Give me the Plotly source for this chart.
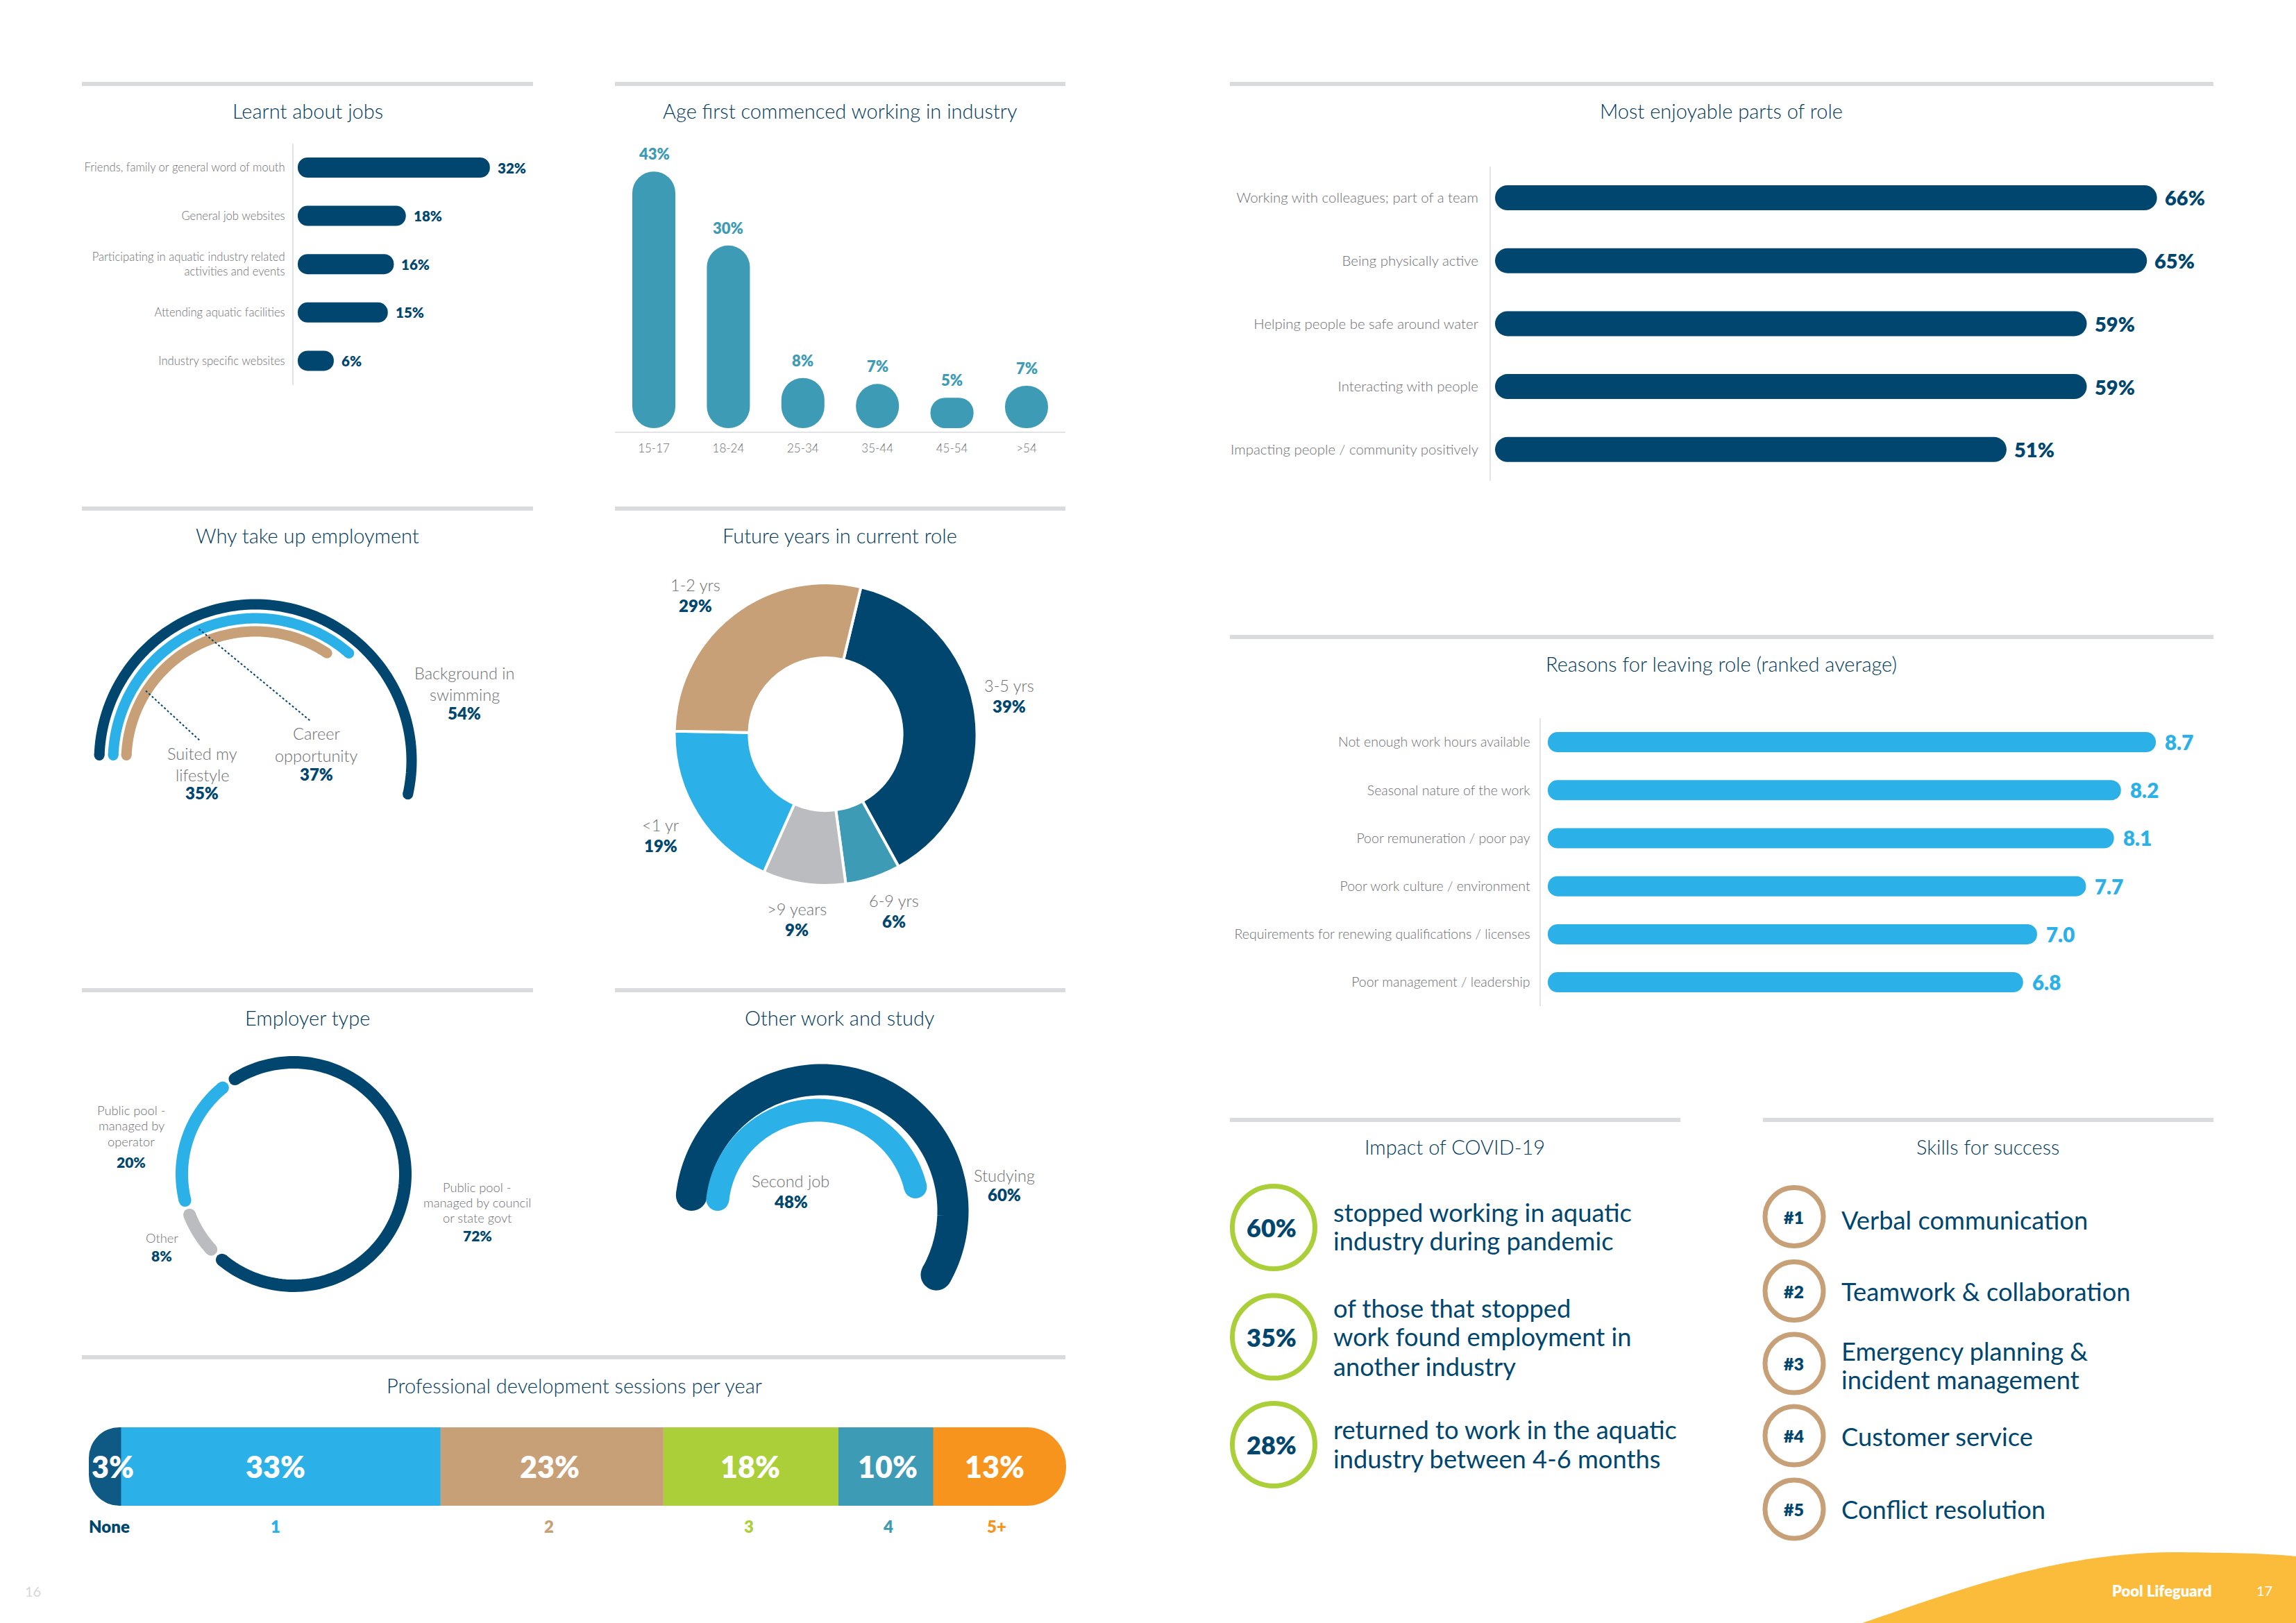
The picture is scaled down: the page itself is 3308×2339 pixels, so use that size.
import math
import numpy as np
import plotly.graph_objects as go

W, H = 3308, 2339
NAVY, TEAL, SKY, TAN, GREEN, ORANGE, GREY = "#00466F", "#3E9BB5", "#2CB0E8", "#C8A077", "#AACF38", "#F7941D", "#BBBCC0"
TXT, RULE, YELLOW = "#6D6E71", "#DADBDC", "#FBBB3B"
TITLE_COLOR = "#00395C"
FONT = "Lato"

# ---------- data ----------
jobs_cats = ["Friends, family or general word of mouth", "General job websites",
             "Participating in aquatic industry related<br>activities and events",
             "Attending aquatic facilities", "Industry specific websites"]
jobs_vals = [32, 18, 16, 15, 6]
age_cats = ["15-17", "18-24", "25-34", "35-44", "45-54", ">54"]
age_vals = [43, 30.6, 8.4, 7.4, 5.1, 7.1]
age_labels = ["43%", "30%", "8%", "7%", "5%", "7%"]
enjoy_cats = ["Working with colleagues; part of a team", "Being physically active",
              "Helping people be safe around water", "Interacting with people",
              "Impacting people / community positively"]
enjoy_vals = [66, 65, 59, 59, 51]
leave_cats = ["Not enough work hours available", "Seasonal nature of the work",
              "Poor remuneration / poor pay", "Poor work culture / environment",
              "Requirements for renewing qualifications / licenses", "Poor management / leadership"]
leave_vals = [8.7, 8.2, 8.1, 7.7, 7.0, 6.8]
why_vals = [54, 37, 35]
future_cats = ["3-5 yrs", "6-9 yrs", ">9 years", "<1 yr", "1-2 yrs"]
future_vals = [39, 6, 9, 19, 29]
employer_vals = [72, 8, 20]
other_vals = [60, 48]
pd_cats = ["None", "1", "2", "3", "4", "5+"]
pd_widths = [3.3, 32.7, 22.8, 17.9, 9.7, 13.6]
pd_labels = ["3%", "33%", "23%", "18%", "10%", "13%"]

fig = go.Figure()
layout = {}
ann, shapes = [], []
BOLD = 800
TITLE = 29


def fx(p):
    return p / W


def fy(p):
    return 1 - p / H


def text(x, y, s, size=18, color=TXT, bold=False, anchor="center", weight=None):
    ann.append(dict(x=fx(x), y=fy(y), xref="paper", yref="paper", text=s, showarrow=False,
                    xanchor=anchor, yanchor="middle",
                    font=dict(family=FONT, size=size, color=color, weight=BOLD if bold else (weight or 400))))


def rule(x0, x1, y):
    shapes.append(dict(type="rect", xref="paper", yref="paper", x0=fx(x0), x1=fx(x1), y0=fy(y - 3), y1=fy(y + 3),
                       fillcolor=RULE, line=dict(width=0), layer="below"))


def title(x, y, s):
    text(x, y, s, size=TITLE, color=TITLE_COLOR, weight=300)


def ring(cx, cy, r, color, width=7):
    shapes.append(dict(type="circle", xref="paper", yref="paper", x0=fx(cx - r), x1=fx(cx + r),
                       y0=fy(cy + r), y1=fy(cy - r), line=dict(color=color, width=width), fillcolor="rgba(0,0,0,0)"))


def hpanel(n, cats, vals, color, axis_px, zero_px, scale, right_px, first, step, thick, tickfont, ticklen, valfont, valcolor, fmt, shift):
    k = len(cats)
    y0, y1 = first - step / 2, first + step * (k - 0.5)
    layout[f"xaxis{n}"] = dict(domain=[fx(axis_px), fx(right_px)], anchor=f"y{n}", showgrid=False, zeroline=False, visible=False,
                               range=[(axis_px - zero_px) / scale, (right_px - zero_px) / scale])
    layout[f"yaxis{n}"] = dict(domain=[fy(y1), fy(y0)], anchor=f"x{n}", type="category", categoryorder="array",
                               categoryarray=cats, range=[k - 0.5, -0.5], showgrid=False, zeroline=False,
                               showline=True, linecolor="#E3E4E5", linewidth=2, ticks="outside", ticklen=ticklen,
                               tickcolor="rgba(0,0,0,0)", tickfont=dict(family=FONT, size=tickfont, color=TXT, weight=300))
    # a bar with an explicit base is rounded at both ends
    fig.add_trace(go.Bar(x=vals, y=cats, base=[0] * k, orientation="h", width=thick / step, cliponaxis=False, showlegend=False,
                         hoverinfo="skip", marker=dict(color=color, line=dict(width=0), cornerradius="50%"),
                         xaxis=f"x{n}", yaxis=f"y{n}"))
    for c, v in zip(cats, vals):
        ann.append(dict(x=v, y=c, xref=f"x{n}", yref=f"y{n}", text=fmt.format(v), showarrow=False, xanchor="left",
                        yanchor="middle", xshift=shift,
                        font=dict(family=FONT, size=valfont, color=valcolor, weight=BOLD)))


# ---------- rules and panel titles ----------
for a, b, y in [(118, 768, 121), (886, 1535, 121), (1772, 3189, 121), (118, 768, 733), (886, 1535, 733),
                (1772, 3189, 918), (118, 768, 1427), (886, 1535, 1427), (118, 1535, 1956),
                (1772, 2421, 1614), (2540, 3189, 1614)]:
    rule(a, b, y)
for x, y, s in [(443, 160, "Learnt about jobs"), (1210, 160, "Age first commenced working in industry"),
                (2480, 160, "Most enjoyable parts of role"), (443, 771, "Why take up employment"),
                (1210, 771, "Future years in current role"), (2480, 956, "Reasons for leaving role (ranked average)"),
                (443, 1466, "Employer type"), (1210, 1466, "Other work and study"),
                (827, 1996, "Professional development sessions per year"),
                (2096, 1652, "Impact of COVID-19"), (2864, 1653, "Skills for success")]:
    title(x, y, s)

# ---------- horizontal bars ----------
hpanel(1, jobs_cats, jobs_vals, NAVY, 423, 429, 8.65, 768, 241.5, 69.6, 29, 16.6, 7, 20.5, NAVY, "{}%", 9)
hpanel(3, enjoy_cats, enjoy_vals, NAVY, 2148, 2154, 14.45, 3189, 285, 90.7, 36, 20.4, 12, 29, NAVY, "{}%", 9)
hpanel(4, leave_cats, leave_vals, SKY, 2219.5, 2230, 100.7, 3189, 1069.6, 69.2, 29, 19.5, 9, 29.5, SKY, "{:.1f}", 11)

# ---------- age columns ----------
a_scale, a_step, a_first = 8.6, 107.4, 942
layout["xaxis2"] = dict(domain=[fx(886), fx(1535)], anchor="y2", type="category", categoryorder="array", categoryarray=age_cats,
                        range=[(886 - a_first) / a_step, (1535 - a_first) / a_step], showgrid=False, zeroline=False,
                        showline=True, linecolor="#E3E4E5", linewidth=2, ticks="outside", ticklen=8,
                        tickcolor="rgba(0,0,0,0)", tickfont=dict(family=FONT, size=17, color=TXT, weight=300))
layout["yaxis2"] = dict(domain=[fy(622), fy(205)], anchor="x2", range=[-5 / a_scale, (617 - 205) / a_scale],
                        showgrid=False, zeroline=False, visible=False)
fig.add_trace(go.Bar(x=age_cats, y=age_vals, base=[0] * len(age_vals), width=62 / a_step, cliponaxis=False, showlegend=False,
                     hoverinfo="skip", marker=dict(color=TEAL, line=dict(width=0), cornerradius="50%"), xaxis="x2", yaxis="y2"))
for c, v, s in zip(age_cats, age_vals, age_labels):
    ann.append(dict(x=c, y=v, xref="x2", yref="y2", text=s, showarrow=False, xanchor="center", yanchor="bottom", yshift=10,
                    font=dict(family=FONT, size=22, color=TEAL, weight=BOLD)))

# ---------- professional development stacked bar ----------
p_scale, p_left = 14.08, 128
layout["xaxis5"] = dict(domain=[fx(p_left), fx(p_left + 100 * p_scale)], anchor="y5", range=[0, 100], visible=False,
                        showgrid=False, zeroline=False)
layout["yaxis5"] = dict(domain=[fy(2170), fy(2057)], anchor="x5", range=[-0.5, 0.5], visible=False, showgrid=False, zeroline=False)
pd_colors = ["#0F5A84", SKY, TAN, GREEN, TEAL, ORANGE]
pd_text_colors = [NAVY, SKY, TAN, GREEN, TEAL, ORANGE]
pct_shift = [11, -8, -3, -1, 3, -7]
cat_shift = [6, -8, -4, -3, 3, -4]
starts = np.cumsum([0] + pd_widths[:-1])
n_seg = len(pd_widths)
# the two ends are drawn first, reaching under their neighbours, so only their outer corners show rounded
for i in (0, n_seg - 1):
    tuck = 60 / p_scale
    s, v = starts[i], pd_widths[i]
    b, length, cr = (s, v + tuck, 44) if i == 0 else (s - tuck, v + tuck, 56)
    fig.add_trace(go.Bar(x=[length], y=[0], base=[b], orientation="h", width=1, showlegend=False, hoverinfo="skip", cliponaxis=False,
                         marker=dict(color=pd_colors[i], line=dict(width=0), cornerradius=cr), xaxis="x5", yaxis="y5"))
for i in range(1, n_seg - 1):
    fig.add_trace(go.Bar(x=[pd_widths[i]], y=[0], base=[starts[i]], orientation="h", width=1, showlegend=False, hoverinfo="skip",
                         cliponaxis=False, marker=dict(color=pd_colors[i], line=dict(width=0)), xaxis="x5", yaxis="y5"))
for i, (s, v) in enumerate(zip(starts, pd_widths)):
    ann.append(dict(x=s + v / 2, y=0, xref="x5", yref="y5", text=pd_labels[i], showarrow=False, xanchor="center", yanchor="middle",
                    xshift=pct_shift[i], font=dict(family=FONT, size=43, color="white", weight=BOLD)))
    ann.append(dict(x=s + v / 2, y=fy(2199), xref="x5", yref="paper", text=pd_cats[i], showarrow=False, xanchor="center", yanchor="middle",
                    xshift=cat_shift[i], font=dict(family=FONT, size=24, color=pd_text_colors[i], weight=BOLD)))

# ---------- donut ----------
dcx, dcy, dr = 1189.5, 1058, 218
fig.add_trace(go.Pie(labels=future_cats, values=future_vals, hole=0.505, sort=False, direction="clockwise", rotation=13.5,
                     textinfo="none", hoverinfo="skip", showlegend=False,
                     marker=dict(colors=[NAVY, TEAL, GREY, SKY, TAN], line=dict(color="white", width=4)),
                     domain=dict(x=[fx(dcx - dr), fx(dcx + dr)], y=[fy(dcy + dr), fy(dcy - dr)])))


# ---------- arcs ----------
def polar(name, cx, cy, R, rotation):
    layout[name] = dict(domain=dict(x=[fx(cx - R), fx(cx + R)], y=[fy(cy + R), fy(cy - R)]),
                        radialaxis=dict(range=[0, R], visible=False),
                        angularaxis=dict(visible=False, rotation=rotation, direction="clockwise"),
                        bgcolor="rgba(0,0,0,0)")


def arc(name, start, value, r, width, color):
    cap = math.degrees(width / 2 / r)
    sweep = value * 3.6
    th = np.linspace(start + cap, start + sweep - cap, 120)
    fig.add_trace(go.Scatterpolar(theta=th, r=[r] * len(th), mode="lines", line=dict(color=color, width=width),
                                  subplot=name, showlegend=False, hoverinfo="skip"))
    fig.add_trace(go.Scatterpolar(theta=[th[0], th[-1]], r=[r, r], mode="markers",
                                  marker=dict(color=color, size=width, line=dict(width=0)),
                                  subplot=name, showlegend=False, hoverinfo="skip"))


polar("polar", 368, 1096, 240, 180)
for v, r, c in zip(why_vals, [225, 205, 186], [NAVY, SKY, TAN]):
    arc("polar", 0, v, r, 15, c)

polar("polar2", 423, 1692, 180, 90)
s0 = -35.5
for v, c in zip(employer_vals, [NAVY, GREY, SKY]):
    arc("polar2", s0 + 0.6, v - 0.35, 161, 18, c)
    s0 += v * 3.6

polar("polar3", 1184, 1745, 215, 180)
arc("polar3", 0, other_vals[0], 189, 45, NAVY)
polar("polar4", 1178, 1745, 170, 180)
arc("polar4", 0, other_vals[1], 145, 33, SKY)

# ---------- dotted leaders ----------
for x0, y0, x1, y1 in [(286.6, 906.5, 448, 1039.6), (210, 995.4, 288.5, 1067.8)]:
    shapes.append(dict(type="line", xref="paper", yref="paper", x0=fx(x0), x1=fx(x1), y0=fy(y0), y1=fy(y1),
                       line=dict(color=NAVY, width=2, dash="dot")))

# ---------- chart labels ----------
L, V = 23.5, 24
for x, lines, val in [
    (669, [(970, "Background in"), (1001, "swimming")], (1027, "54%")),
    (456, [(1057, "Career"), (1088.6, "opportunity")], (1115.5, "37%")),
    (291, [(1085.6, "Suited my"), (1117, "lifestyle")], (1143, "35%")),
    (1002, [(843, "1-2 yrs")], (872.6, "29%")),
    (1454, [(988, "3-5 yrs")], (1017.5, "39%")),
    (1287.6, [(1297.6, "6-9 yrs")], (1327, "6%")),
    (1148, [(1310, ">9 years")], (1339, "9%")),
    (951.6, [(1189, "<1 yr")], (1218, "19%")),
    (1447, [(1694, "Studying")], (1721, "60%")),
    (1139, [(1702, "Second job")], (1731, "48%")),
]:
    for y, s in lines:
        text(x, y, s, size=L, weight=300)
    text(x, val[0], val[1], size=V, color=NAVY, bold=True)
for x, lines, val in [
    (189, [(1600, "Public pool -"), (1622, "managed by"), (1645, "operator")], (1674, "20%")),
    (233, [(1784, "Other")], (1809, "8%")),
    (687.6, [(1711, "Public pool -"), (1733, "managed by council"), (1755, "or state govt")], (1780.5, "72%")),
]:
    for y, s in lines:
        text(x, y, s, size=18.3, weight=300)
    text(x, val[0], val[1], size=21, color=NAVY, bold=True)

# ---------- COVID and skills blocks ----------
for cy, pct, lines in [
    (1769, "60%", [(1746.6, "stopped working in aquatic"), (1787.6, "industry during pandemic")]),
    (1926.6, "35%", [(1885, "of those that stopped"), (1926, "work found employment in"), (1968.5, "another industry")]),
    (2082, "28%", [(2060, "returned to work in the aquatic"), (2102, "industry between 4-6 months")]),
]:
    ring(1835, cy, 59.5, GREEN)
    text(1832, cy, pct, size=36, color=NAVY, bold=True)
    for y, s in lines:
        text(1919, y, s, size=36.3, color=NAVY, anchor="left")
for cy, rank, lines in [
    (1753.6, "#1", [(1758, "Verbal communication")]),
    (1860.6, "#2", [(1860.6, "Teamwork & collaboration")]),
    (1965, "#3", [(1947, "Emergency planning &"), (1988, "incident management")]),
    (2069, "#4", [(2070, "Customer service")]),
    (2175, "#5", [(2175, "Conflict resolution")]),
]:
    ring(2585, cy, 42, TAN)
    text(2584, cy, rank, size=25, color=NAVY, bold=True)
    for y, s in lines:
        text(2651, y, s, size=36.3, color=NAVY, anchor="left")

# ---------- footer ----------
pts = [("M", 2683, 2339), ("C", 2800, 2300), ("", 2960, 2235), ("", 3142, 2237),
       ("C", 3210, 2238), ("", 3260, 2238), ("", 3308, 2243), ("L", 3308, 2339)]
path = " ".join(f"{c}{fx(x):.5f},{fy(y):.5f}" for c, x, y in pts) + " Z"
shapes.append(dict(type="path", xref="paper", yref="paper", path=path, fillcolor=YELLOW, line=dict(width=0), layer="below"))
text(3115, 2292, "Pool Lifeguard", size=22, color="white", bold=True)
text(3262, 2292, "17", size=20, color="white")
text(47, 2293, "16", size=20, color="#D5D6D8")

fig.update_layout(width=W, height=H, margin=dict(l=0, r=0, t=0, b=0), paper_bgcolor="white", plot_bgcolor="rgba(0,0,0,0)",
                  barmode="overlay", showlegend=False, annotations=ann, shapes=shapes, font=dict(family=FONT), **layout)
fig.write_html("out.html", post_script="document.body.style.margin='0';", config=dict(displayModeBar=False))
